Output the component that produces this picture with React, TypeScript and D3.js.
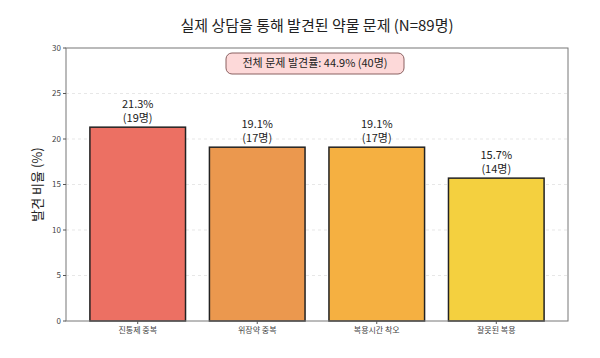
import React from 'react';
import * as d3 from 'd3';

const categories = ['진통제 중복', '위장약 중복', '복용시간 착오', '잘못된 복용'];
const percents = [21.3, 19.1, 19.1, 15.7];
const counts = [19, 17, 17, 14];
const colors = ['#ec7063', '#eb984e', '#f5b041', '#f4d03f'];
const yTicks = [0, 5, 10, 15, 20, 25, 30];

const W = 600;
const H = 358;
const FONT = "'Noto Sans CJK KR', 'Noto Sans', sans-serif";

const App: React.FC = () => {
  const margin = { top: 48, right: 32, bottom: 37, left: 66 };
  const x = d3.scaleLinear().domain([-0.6, 3.6]).range([margin.left, W - margin.right]);
  const y = d3.scaleLinear().domain([0, 30]).range([H - margin.bottom, margin.top]);
  const barW = x(0.8) - x(0);

  return (
    <svg width={W} height={H} style={{ position: 'absolute', left: 0, top: 0, background: '#fff' }} fontFamily={FONT}>
      <text x={(x(-0.6) + x(3.6)) / 2} y={31} textAnchor="middle" fontSize={15} fill="#222">
        실제 상담을 통해 발견된 약물 문제 (N=89명)
      </text>

      {/* grid */}
      {yTicks.slice(1, -1).map(t => (
        <line key={t} x1={x(-0.6)} x2={x(3.6)} y1={y(t)} y2={y(t)}
          stroke="#ddd" strokeWidth={0.7} strokeDasharray="3,3" />
      ))}

      {/* bars */}
      {categories.map((c, i) => (
        <g key={c}>
          <rect x={x(i) - barW / 2} y={y(percents[i])} width={barW} height={y(0) - y(percents[i])}
            fill={colors[i]} stroke="#222" strokeWidth={1.5} />
          <text x={x(i)} y={y(percents[i]) - 19} textAnchor="middle" fontSize={11} fill="#222">
            {percents[i].toFixed(1)}%
          </text>
          <text x={x(i)} y={y(percents[i]) - 5} textAnchor="middle" fontSize={11} fill="#222">
            ({counts[i]}명)
          </text>
        </g>
      ))}

      {/* frame */}
      <rect x={x(-0.6)} y={y(30)} width={x(3.6) - x(-0.6)} height={y(0) - y(30)}
        fill="none" stroke="#777" strokeWidth={1} />

      {/* y axis */}
      {yTicks.map(t => (
        <g key={t}>
          <line x1={x(-0.6) - 3} x2={x(-0.6)} y1={y(t)} y2={y(t)} stroke="#555" />
          <text x={x(-0.6) - 5} y={y(t)} dy="0.35em" textAnchor="end" fontSize={8} fill="#444">{t}</text>
        </g>
      ))}
      <text transform={`translate(42,${(y(0) + y(30)) / 2}) rotate(-90)`} textAnchor="middle" fontSize={13} fill="#222">
        발견 비율 (%)
      </text>

      {/* x axis */}
      {categories.map((c, i) => (
        <g key={c}>
          <line x1={x(i)} x2={x(i)} y1={y(0)} y2={y(0) + 3} stroke="#555" />
          <text x={x(i)} y={y(0) + 12} textAnchor="middle" fontSize={8} fill="#444">{c}</text>
        </g>
      ))}

      {/* annotation */}
      <rect x={226} y={53} width={178} height={21} rx={6} fill="#fdd9d9" stroke="#8a6060" strokeWidth={1} />
      <text x={315} y={63.5} dy="0.35em" textAnchor="middle" fontSize={11} fill="#222">
        전체 문제 발견률: 44.9% (40명)
      </text>
    </svg>
  );
};

export default App;
